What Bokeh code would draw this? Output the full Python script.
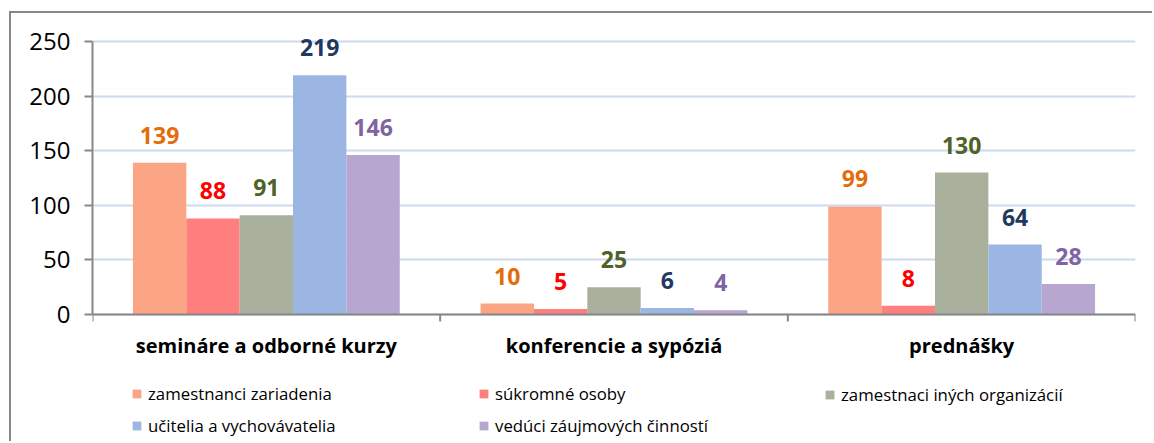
from bokeh.plotting import figure
from bokeh.models import (ColumnDataSource, Range1d, LinearAxis, FixedTicker, LabelSet,
                          Legend, LegendItem, Span)
from bokeh.core.properties import value
from bokeh.transform import dodge
from bokeh.embed import file_html
from bokeh.resources import INLINE

categories = ["semináre a odborné kurzy", "konferencie a sypóziá", "prednášky"]
series_names = ["zamestnanci zariadenia", "súkromné osoby", "zamestnaci iných organizácií",
                "učitelia a vychovávatelia", "vedúci záujmových činností"]
zamestnanci_zariadenia = [139, 10, 99]
sukromne_osoby = [88, 5, 8]
zamestnanci_inych_organizacii = [91, 25, 130]
ucitelia_a_vychovavatelia = [219, 6, 64]
veduci_zaujmovych_cinnosti = [146, 4, 28]
y_ticks = [0, 50, 100, 150, 200, 250]

series_values = [zamestnanci_zariadenia, sukromne_osoby, zamestnanci_inych_organizacii,
                 ucitelia_a_vychovavatelia, veduci_zaujmovych_cinnosti]
bar_colors = ["#FCA584", "#FF7F7F", "#A9B09B", "#9BB6E2", "#B7A6CF"]
label_colors = ["#E46C0A", "#FF0000", "#4F6228", "#1F3A60", "#8064A2"]
keys = ["s0", "s1", "s2", "s3", "s4"]

n = len(categories)
centers = [i + 0.5 for i in range(n)]
data = {"cat": categories, "pos": centers, "zero": [0] * n}
for k, v in zip(keys, series_values):
    data[k] = v
    data[k + "_txt"] = [str(x) for x in v]
source = ColumnDataSource(data)
bsource = ColumnDataSource({"b": list(range(n + 1)), "zero": [0] * (n + 1)})

FONT = "Open Sans"

# geometry: the frame fills the canvas height; the value axis occupies 273 px of it,
# starting 28 px below the top, so labels above it and the legend below it are not clipped
CANVAS_H = 430
TOP_PAD = 28
AXIS_H = 273
YMAX = y_ticks[-1]
px_per_unit = AXIS_H / YMAX
y_hi = YMAX + TOP_PAD / px_per_unit
y_lo = -(CANVAS_H - TOP_PAD - AXIS_H) / px_per_unit

p = figure(x_range=Range1d(0, n), y_range=Range1d(y_lo, y_hi),
           width=1143, height=CANVAS_H,
           min_border_left=81, min_border_right=19, min_border_top=0, min_border_bottom=0,
           x_axis_location=None, y_axis_location=None,
           output_backend="svg", toolbar_location=None, tools="")
p.outline_line_color = None
p.background_fill_color = "white"
p.border_fill_color = "white"
p.styles = {"border-left": "2px solid #878787", "border-top": "2px solid #878787",
            "margin-left": "9px", "margin-top": "11px"}

# y axis
yax = LinearAxis(ticker=FixedTicker(ticks=y_ticks), bounds=(0, YMAX))
yax.axis_line_color = "#878787"
yax.axis_line_width = 2
yax.major_tick_line_color = "#878787"
yax.major_tick_line_width = 2
yax.major_tick_in = 0
yax.major_tick_out = 8
yax.minor_tick_line_color = None
yax.major_label_text_font = FONT
yax.major_label_text_font_size = "24px"
yax.major_label_text_color = "black"
yax.major_label_standoff = 14
p.add_layout(yax, "left")

# grid
p.xgrid.grid_line_color = None
p.ygrid.ticker = FixedTicker(ticks=y_ticks)
p.ygrid.grid_line_color = "#CDDAF0"
p.ygrid.grid_line_width = 2

w = 0.1535
renderers = []
for i, k in enumerate(keys):
    off = (i - 2) * w
    r = p.vbar(x=dodge("pos", off), top=k, width=w, source=source,
               fill_color=bar_colors[i], line_color=None)
    renderers.append(r)
    lbl = LabelSet(x=dodge("pos", off), y=k, text=k + "_txt", source=source,
                   text_align="center", text_baseline="alphabetic", y_offset=19,
                   text_font=value(FONT), text_font_style="bold", text_font_size="23px",
                   text_color=label_colors[i])
    p.add_layout(lbl)

# category axis: line at zero, tick marks at category boundaries, bold labels
p.add_layout(Span(location=0, dimension="width", line_color="#878787", line_width=2))
p.segment(x0="b", y0="zero", x1="b", y1=-7 / px_per_unit, source=bsource,
          line_color="#878787", line_width=2)
cat_lbl = LabelSet(x="pos", y="zero", text="cat", source=source,
                   text_align="center", text_baseline="alphabetic", y_offset=-38,
                   text_font=value(FONT), text_font_style="bold", text_font_size="20px",
                   text_color="black")
p.add_layout(cat_lbl)

cols = [[0, 3], [1, 4], [2]]
xlocs = [39, 386, 732]
ylocs = [6, 6, 37]
for col, xl, yl in zip(cols, xlocs, ylocs):
    items = [LegendItem(label=series_names[j], renderers=[renderers[j]]) for j in col]
    lg = Legend(items=items, location=(xl, yl), orientation="vertical",
                glyph_width=11, glyph_height=11, label_height=20, spacing=9,
                padding=0, margin=0, label_standoff=6,
                label_text_font=FONT, label_text_font_size="16.8px", label_text_color="black",
                border_line_color=None, background_fill_alpha=0)
    p.add_layout(lg, "center")

open("out.html", "w").write(file_html(p, INLINE))
